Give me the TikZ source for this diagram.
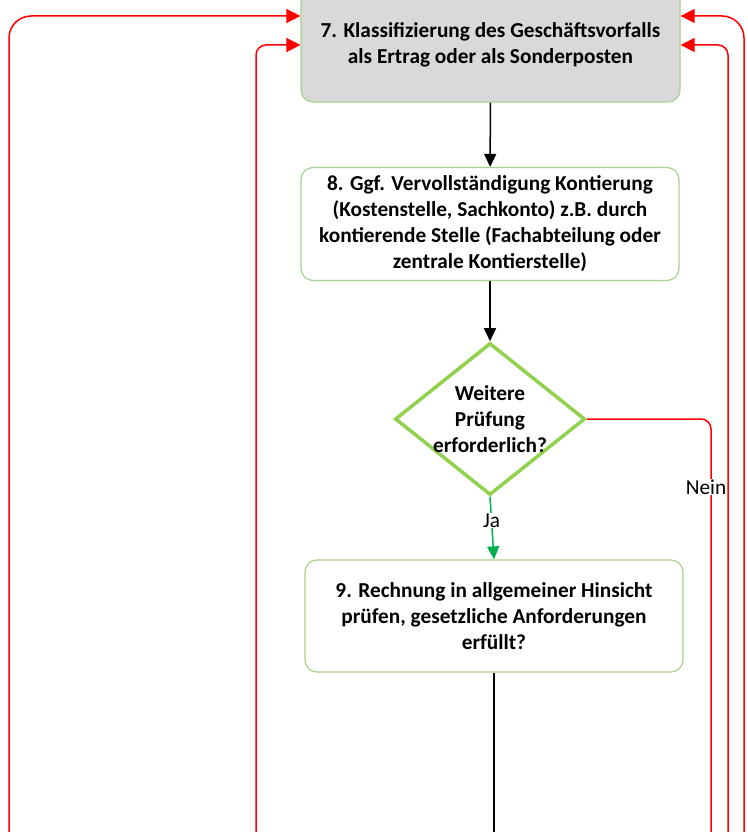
\documentclass[tikz,border=0pt]{standalone}
\usepackage{fontspec}
\setmainfont{Carlito}
\usepackage{xcolor}
\definecolor{boxgreen}{HTML}{A9D18E}
\definecolor{diagreen}{HTML}{92D050}
\definecolor{yesgreen}{HTML}{00B050}
\definecolor{boxgray}{HTML}{D9D9D9}
\usetikzlibrary{arrows.meta, shapes.geometric}

\begin{document}
\begin{tikzpicture}[x=1pt,y=-1pt,
    every node/.style={font=\fontsize{21.3}{26}\selectfont},
    stepbox/.style={draw=boxgreen,line width=1.2pt,rounded corners=12pt,
      minimum width=378pt,minimum height=112pt,inner sep=0pt,align=center,
      font=\fontsize{21.3}{26}\selectfont\bfseries},
    decision/.style={diamond,draw=diagreen,line width=3.5pt,inner sep=0pt,
      minimum width=190pt,minimum height=152pt},
    flow/.style={line width=1.5pt,-{Triangle[length=13pt,width=12pt]}},
    back/.style={red,line width=1.5pt,-{Triangle[length=14pt,width=14pt]}},
    label/.style={fill=white,inner sep=1pt}]
  \useasboundingbox (0,0) rectangle (747,832);
  % Steps 7 to 9 and the check between them.
  \node[stepbox,fill=boxgray,minimum width=379pt,minimum height=114pt] (klass) at (490.5,45)
    {7. Klassifizierung des Geschäftsvorfalls\\als Ertrag oder als Sonderposten};
  \node[stepbox,minimum height=113pt] (kont) at (490,224)
    {8. Ggf. Vervollständigung Kontierung\\(Kostenstelle, Sachkonto) z.B. durch\\kontierende Stelle (Fachabteilung oder\\zentrale Kontierstelle)};
  \node[decision] (check) at (490,419) {};
  \node[font=\fontsize{21.3}{26}\selectfont\bfseries,align=center] at (check) {Weitere\\Prüfung\\erforderlich?};
  \node[stepbox] (pruef) at (494,616)
    {9. Rechnung in allgemeiner Hinsicht\\prüfen, gesetzliche Anforderungen\\erfüllt?};
  % Loose ends below the page.
  \coordinate (outA) at (9,850);
  \coordinate (outB) at (256,850);
  \coordinate (outC) at (494,850);
  \coordinate (outD) at (711,850);
  \coordinate (outE) at (728,850);
  \coordinate (outF) at (744,850);
  % Main flow.
  \draw[flow] (klass) -- (kont);
  \draw[flow] (kont) -- (check);
  \draw[flow,yesgreen] (check.south) -- node[label,text=black,pos=0.38] (ja) {Ja} (pruef.north);
  \draw[line width=1.5pt] (pruef) -- (outC);
  \draw[red,line width=1.5pt,rounded corners=10pt] (check.east) -| (outD);
  \node[label] (nein) at (706,487) {Nein};
  % Returns to step 7.
  \draw[back,rounded corners=22pt] (outA) |- ([yshift=29pt]klass.west);
  \draw[back,rounded corners=10pt] (outB) |- (klass.west);
  \draw[back,rounded corners=22pt] (outF) |- ([yshift=29pt]klass.east);
  \draw[back,rounded corners=10pt] (outE) |- (klass.east);
\end{tikzpicture}
\end{document}
